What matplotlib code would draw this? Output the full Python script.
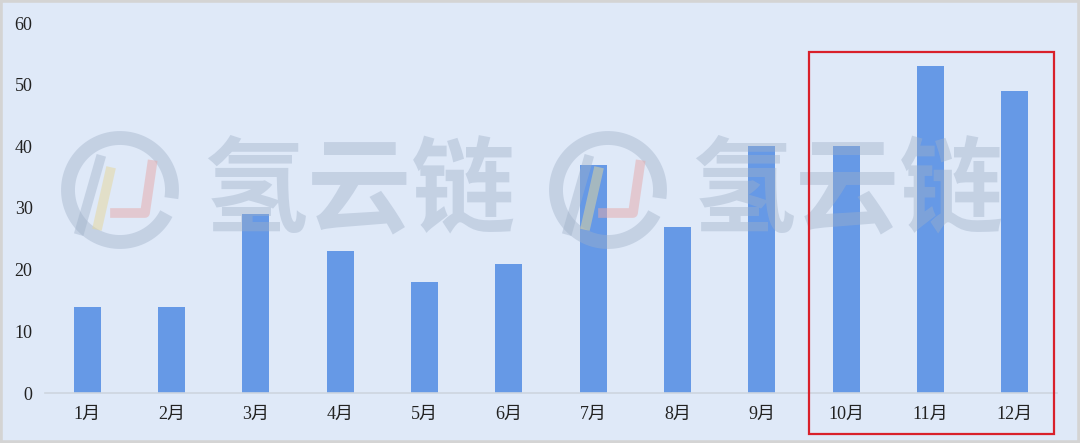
import matplotlib
matplotlib.use("Agg")
import matplotlib.pyplot as plt
import numpy as np
from matplotlib.patches import Rectangle
from matplotlib.lines import Line2D

months = ["1月", "2月", "3月", "4月", "5月", "6月", "7月", "8月", "9月", "10月", "11月", "12月"]
values = [14, 14, 29, 23, 18, 21, 37, 27, 40, 40, 53, 49]
yticks = [0, 10, 20, 30, 40, 50, 60]

W, H = 1080, 443
bg = "#dfe9f8"
bar_color = "#6699e6"

fig = plt.figure(figsize=(W / 100, H / 100), dpi=100)
fig.patch.set_facecolor(bg)
fig.add_artist(Rectangle((0, 0), 1, 1, transform=fig.transFigure, fill=False,
                         edgecolor="#d4d4d4", linewidth=4))

ax = fig.add_axes([45 / W, (H - 393) / H, (1057 - 45) / W, (393 - 23) / H])
ax.set_facecolor(bg)
x = list(range(len(months)))
ax.bar(x, values, width=0.32, color=bar_color, zorder=2)
ax.set_xlim(-0.5, len(months) - 0.5)
ax.set_ylim(0, 60)
ax.set_yticks(yticks)
ax.set_xticks(x)
ax.set_xticklabels(months)
for s in ["top", "right", "left"]:
    ax.spines[s].set_visible(False)
ax.spines["bottom"].set_color("#cdd5df")
ax.spines["bottom"].set_linewidth(1.2)
ax.tick_params(length=0, pad=9, labelsize=13, colors="#222222")
for lab in ax.get_xticklabels() + ax.get_yticklabels():
    lab.set_family(["Liberation Serif", "Noto Sans CJK SC"])

# watermarks (figure pixel coordinates)
wm_color = "#9fb0c8"
wa = 0.42

for cx, tx in [(120, 203), (608, 691)]:
    th = np.linspace(0.15 * np.pi, 2.05 * np.pi, 200)
    r = 52
    xs = (cx + r * np.cos(th)) / W
    ys = (H - (190 + r * np.sin(th))) / H
    fig.add_artist(Line2D(xs, ys, transform=fig.transFigure, color=wm_color,
                          lw=10, alpha=wa, solid_capstyle="butt", zorder=5))
    fig.add_artist(Line2D([(cx - 40) / W, (cx - 20) / W],
                          [(H - 230) / H, (H - 160) / H], transform=fig.transFigure,
                          color=wm_color, lw=7, alpha=wa, zorder=5))
    fig.add_artist(Line2D([(cx - 22) / W, (cx - 10) / W],
                          [(H - 225) / H, (H - 172) / H], transform=fig.transFigure,
                          color="#e5d79a", lw=7, alpha=0.5, zorder=5))
    fig.add_artist(Line2D([(cx - 5) / W, (cx + 25) / W, (cx + 32) / W],
                          [(H - 213) / H, (H - 213) / H, (H - 165) / H],
                          transform=fig.transFigure,
                          color="#e6a9a9", lw=7, alpha=0.5, zorder=5))
    fig.text(tx / W, (H - 192) / H, "氢云链", fontsize=75, fontweight="bold",
             family=["Noto Sans CJK SC"], color=wm_color, alpha=wa,
             ha="left", va="center", style="italic", zorder=5)

# red highlight box
fig.add_artist(Rectangle((809 / W, (H - 434) / H), (1054 - 809) / W, (434 - 52) / H,
                         transform=fig.transFigure, fill=False,
                         edgecolor="#d9202a", linewidth=1.6, zorder=6))

fig.savefig("out.png", dpi=100, facecolor=bg)
